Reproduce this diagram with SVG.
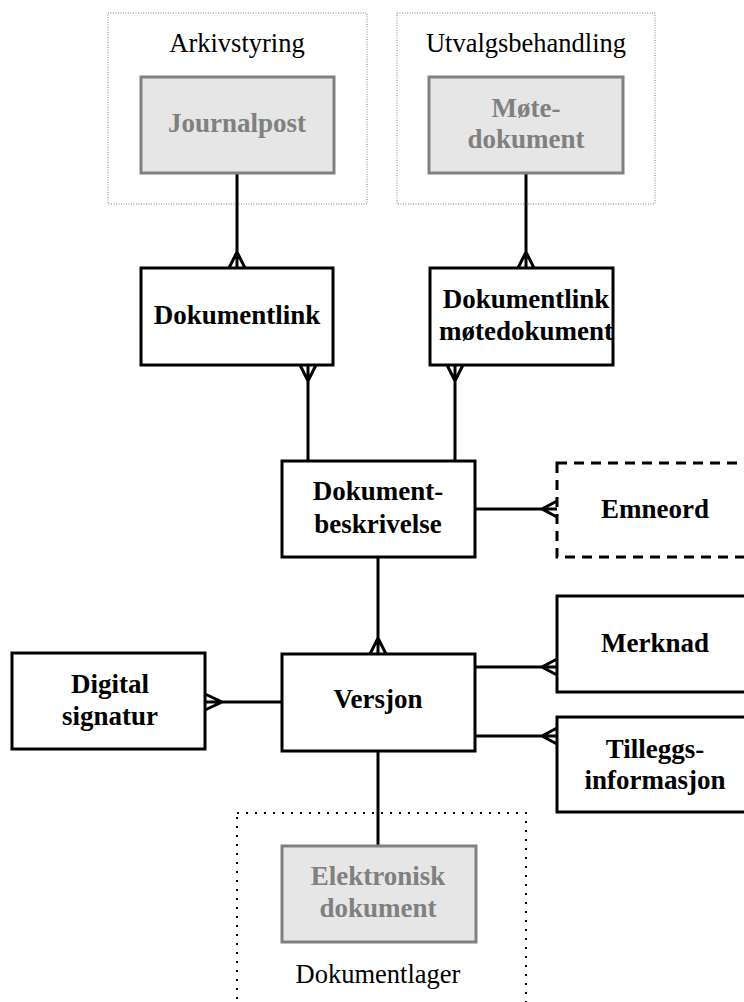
<svg xmlns="http://www.w3.org/2000/svg" width="744" height="1002" viewBox="0 0 744 1002">
  <style>
    .entity { fill: #ffffff; stroke: #000000; stroke-width: 3; }
    .optional { fill: #ffffff; stroke: #000000; stroke-width: 3; stroke-dasharray: 10 7; }
    .external { fill: #e6e6e6; stroke: #808080; stroke-width: 3; }
    .area { fill: none; stroke: #808080; stroke-width: 1; stroke-dasharray: 1 1.5; }
    .store { fill: none; stroke: #000000; stroke-width: 2; stroke-dasharray: 2 7; }
    .label { font-family: "Liberation Serif", "Times New Roman", serif; font-size: 27px; font-weight: bold; fill: #000000; text-anchor: middle; }
    .ext-label { font-family: "Liberation Serif", "Times New Roman", serif; font-size: 27px; font-weight: bold; fill: #808080; text-anchor: middle; }
    .area-label { font-family: "Liberation Serif", "Times New Roman", serif; font-size: 26.5px; fill: #000000; text-anchor: middle; }
    .link { fill: none; stroke: #000000; stroke-width: 3; stroke-linejoin: miter; }
  </style>

  <!-- system areas -->
  <g id="area-arkivstyring">
    <rect class="area" x="108" y="13" width="259" height="191"/>
    <text class="area-label" x="237" y="52">Arkivstyring</text>
  </g>
  <g id="area-utvalgsbehandling">
    <rect class="area" x="397" y="13" width="258" height="191"/>
    <text class="area-label" x="526" y="52">Utvalgsbehandling</text>
  </g>
  <g id="area-dokumentlager">
    <rect class="store" x="237" y="813" width="289" height="200"/>
    <text class="area-label" x="378" y="983">Dokumentlager</text>
  </g>

  <!-- connectors -->
  <g id="connectors">
    <!-- Journalpost - Dokumentlink -->
    <path class="link" d="M237 173 V268 M229 268 L237 252 L245 268"/>
    <!-- Møtedokument - Dokumentlink møtedokument -->
    <path class="link" d="M526 173 V268 M518 268 L526 252 L534 268"/>
    <!-- Dokumentlink - Dokumentbeskrivelse -->
    <path class="link" d="M308 365 V461 M300 365 L308 381 L316 365"/>
    <!-- Dokumentlink møtedokument - Dokumentbeskrivelse -->
    <path class="link" d="M455 365 V461 M447 365 L455 381 L463 365"/>
    <!-- Dokumentbeskrivelse - Emneord -->
    <path class="link" d="M475 509 H557 M557 501 L542 509 L557 517"/>
    <!-- Dokumentbeskrivelse - Versjon -->
    <path class="link" d="M378 557 V654 M370 654 L378 638 L386 654"/>
    <!-- Versjon - Digital signatur -->
    <path class="link" d="M282 702 H205 M205 694 L222 702 L205 710"/>
    <!-- Versjon - Merknad -->
    <path class="link" d="M475 667 H557 M557 659 L542 667 L557 675"/>
    <!-- Versjon - Tilleggsinformasjon -->
    <path class="link" d="M475 736 H557 M557 728 L542 736 L557 744"/>
    <!-- Versjon - Elektronisk dokument -->
    <path class="link" d="M378 751 V846"/>
  </g>

  <!-- entities -->
  <g id="journalpost">
    <rect class="external" x="141" y="77" width="193" height="96"/>
    <text class="ext-label" x="237" y="132">Journalpost</text>
  </g>
  <g id="motedokument">
    <rect class="external" x="429" y="77" width="194" height="96"/>
    <text class="ext-label" x="526" y="117">Møte-</text>
    <text class="ext-label" x="526" y="148">dokument</text>
  </g>
  <g id="dokumentlink">
    <rect class="entity" x="141" y="268" width="192" height="97"/>
    <text class="label" x="237" y="324">Dokumentlink</text>
  </g>
  <g id="dokumentlink-motedokument">
    <rect class="entity" x="430" y="268" width="183" height="97"/>
    <text class="label" x="526" y="308">Dokumentlink</text>
    <text class="label" x="526" y="340">møtedokument</text>
  </g>
  <g id="dokumentbeskrivelse">
    <rect class="entity" x="282" y="461" width="193" height="96"/>
    <text class="label" x="378" y="500">Dokument-</text>
    <text class="label" x="378" y="533">beskrivelse</text>
  </g>
  <g id="emneord">
    <rect class="optional" x="557" y="463" width="200" height="94"/>
    <text class="label" x="655" y="518">Emneord</text>
  </g>
  <g id="merknad">
    <rect class="entity" x="557" y="596" width="200" height="96"/>
    <text class="label" x="655" y="652">Merknad</text>
  </g>
  <g id="versjon">
    <rect class="entity" x="282" y="654" width="193" height="97"/>
    <text class="label" x="378" y="708">Versjon</text>
  </g>
  <g id="digital-signatur">
    <rect class="entity" x="12" y="653" width="193" height="96"/>
    <text class="label" x="110" y="693">Digital</text>
    <text class="label" x="110" y="725">signatur</text>
  </g>
  <g id="tilleggsinformasjon">
    <rect class="entity" x="557" y="717" width="200" height="95"/>
    <text class="label" x="655" y="758">Tilleggs-</text>
    <text class="label" x="655" y="789">informasjon</text>
  </g>
  <g id="elektronisk-dokument">
    <rect class="external" x="282" y="846" width="194" height="96"/>
    <text class="ext-label" x="378" y="885">Elektronisk</text>
    <text class="ext-label" x="378" y="917">dokument</text>
  </g>
</svg>
